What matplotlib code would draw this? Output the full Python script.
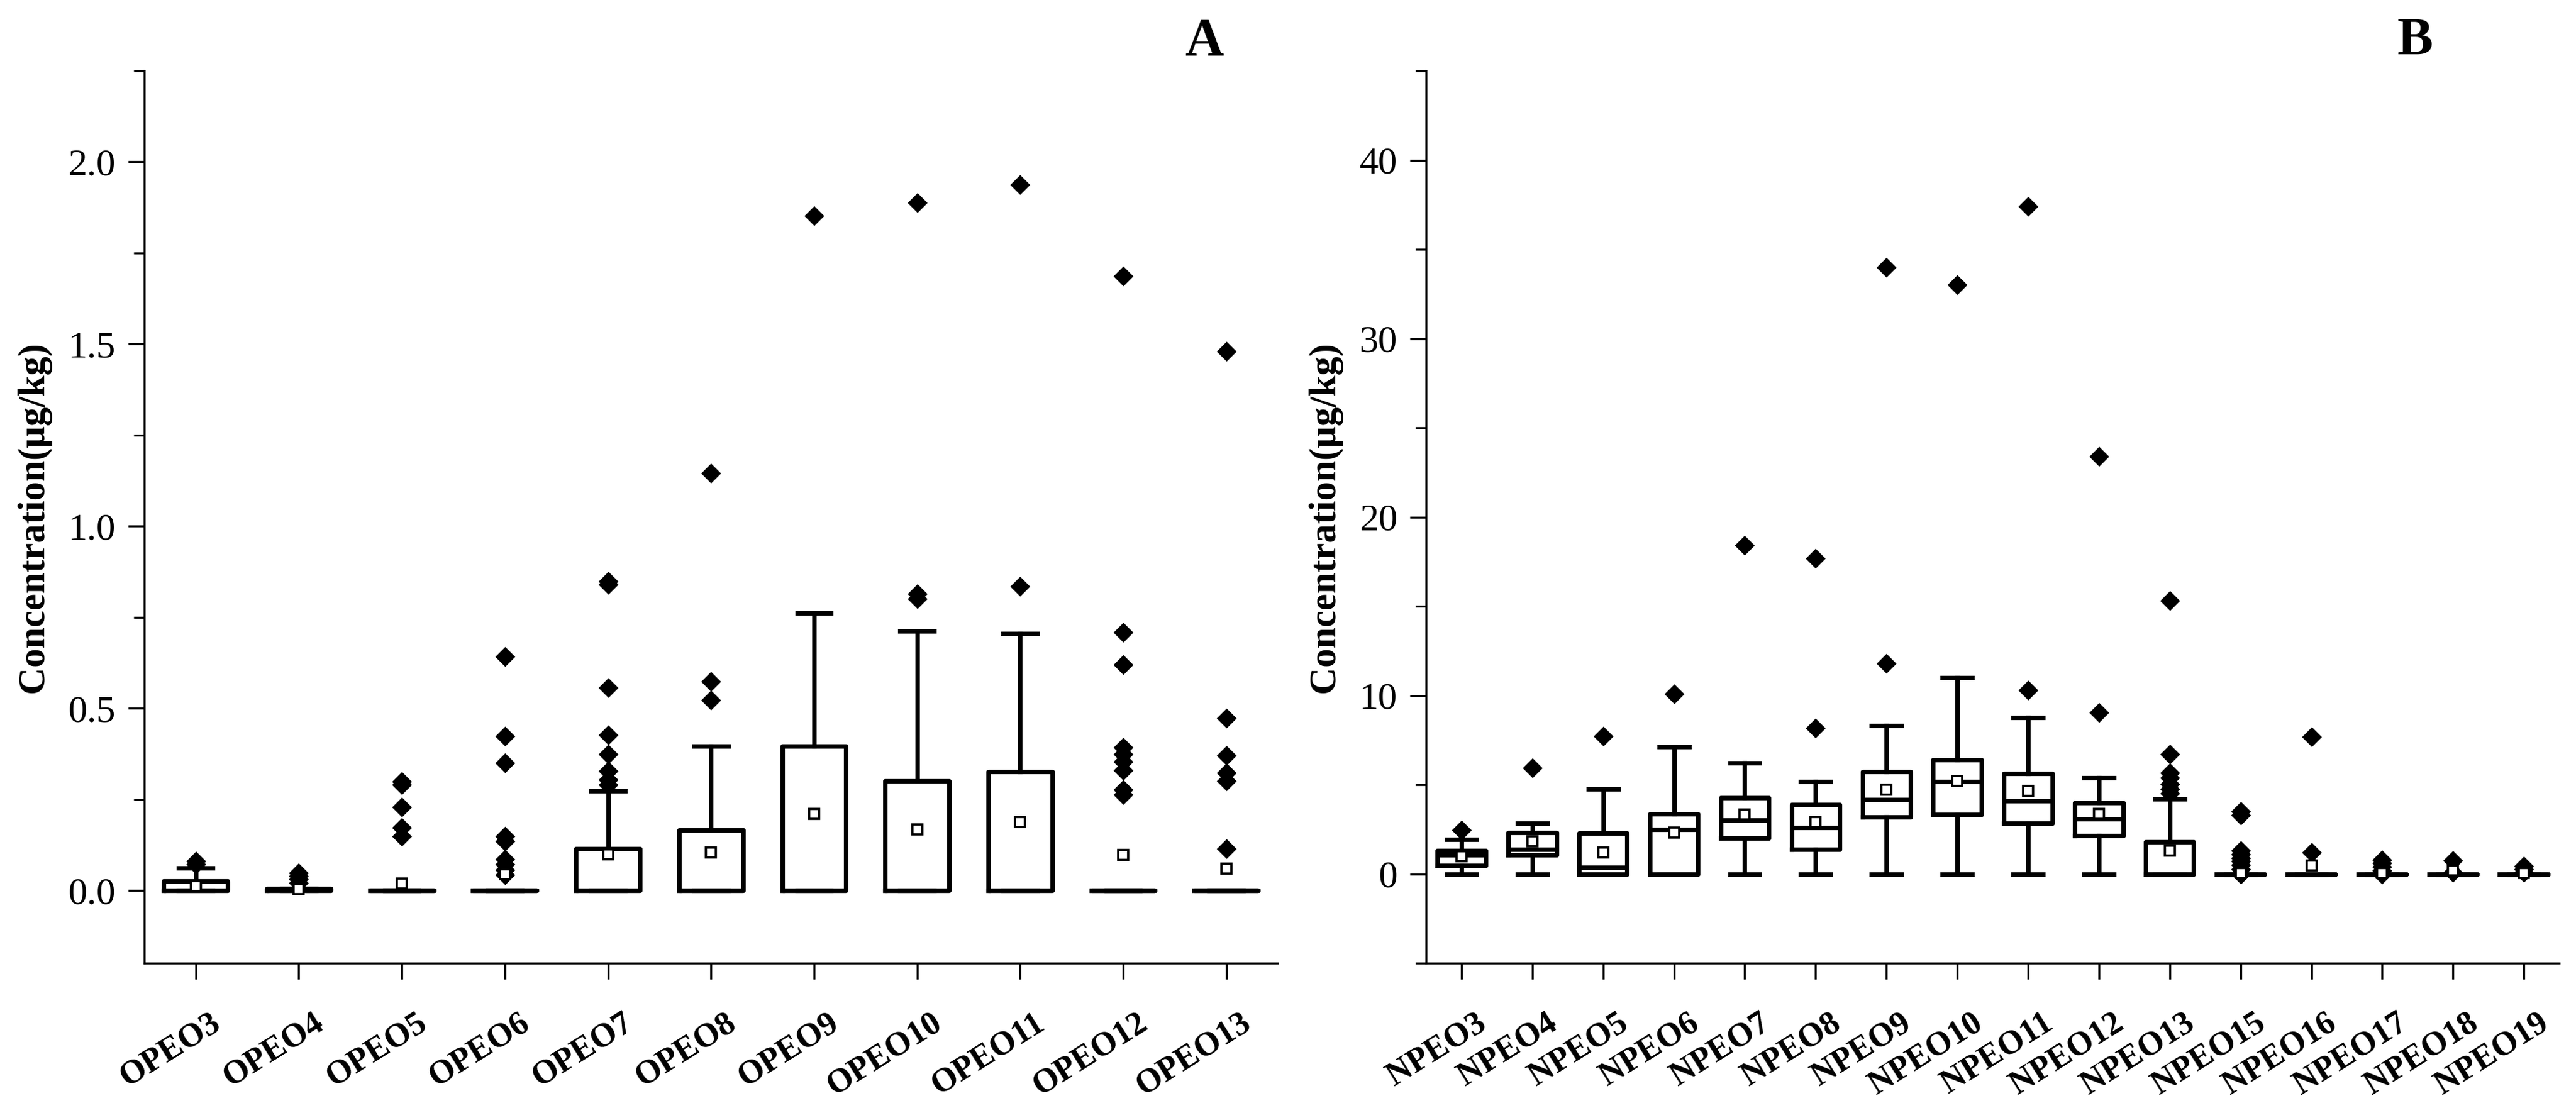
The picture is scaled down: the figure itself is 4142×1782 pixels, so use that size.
#!/usr/bin/env python3
# -*- coding: utf-8 -*-

import matplotlib
matplotlib.use('Agg')
import matplotlib.pyplot as plt
from matplotlib.ticker import MultipleLocator
from matplotlib.transforms import ScaledTranslation


# panel A: OPEO
opeo_labels = ['OPEO3', 'OPEO4', 'OPEO5', 'OPEO6', 'OPEO7', 'OPEO8',
               'OPEO9', 'OPEO10', 'OPEO11', 'OPEO12', 'OPEO13']
opeo_q1 = [0, 0, 0, 0, 0, 0, 0, 0, 0, 0, 0]
opeo_med = [0, 0, 0, 0, 0, 0, 0, 0, 0, 0, 0]
opeo_q3 = [0.025, 0.005, 0, 0, 0.114, 0.165, 0.396, 0.301, 0.326, 0, 0]
opeo_lo = [0, 0, 0, 0, 0, 0, 0, 0, 0, 0, 0]
opeo_hi = [0.061, 0.005, 0, 0, 0.273, 0.396, 0.762, 0.711, 0.705, 0, 0]
opeo_mean = [0.012, 0.004, 0.018, 0.045, 0.099, 0.104, 0.21, 0.168, 0.188, 0.098, 0.059]
opeo_out = [[0.072, 0.08],
            [0.02, 0.03, 0.04, 0.047],
            [0.149, 0.173, 0.228, 0.29, 0.298],
            [0.043, 0.057, 0.072, 0.086, 0.134, 0.149, 0.35, 0.424, 0.642],
            [0.29, 0.304, 0.328, 0.374, 0.426, 0.557, 0.84, 0.848],
            [0.523, 0.574, 1.146],
            [1.852],
            [0.80, 0.815, 1.888],
            [0.835, 1.938],
            [0.262, 0.277, 0.33, 0.354, 0.373, 0.393, 0.62, 0.709, 1.687],
            [0.114, 0.30, 0.323, 0.371, 0.472, 1.48]]

# panel B: NPEO
npeo_labels = ['NPEO3', 'NPEO4', 'NPEO5', 'NPEO6', 'NPEO7', 'NPEO8', 'NPEO9',
               'NPEO10', 'NPEO11', 'NPEO12', 'NPEO13', 'NPEO15', 'NPEO16',
               'NPEO17', 'NPEO18', 'NPEO19']
npeo_q1 = [0.49, 1.05, 0, 0, 2.02, 1.38, 3.18, 3.32, 2.85, 2.13, 0, 0, 0, 0, 0, 0]
npeo_med = [1.05, 1.38, 0.36, 2.49, 3.0, 2.61, 4.15, 5.18, 4.09, 3.08, 0, 0, 0, 0, 0, 0]
npeo_q3 = [1.30, 2.33, 2.29, 3.36, 4.27, 3.89, 5.75, 6.40, 5.63, 4.0, 1.8, 0, 0, 0, 0, 0]
npeo_lo = [0, 0, 0, 0, 0, 0, 0, 0, 0, 0, 0, 0, 0, 0, 0, 0]
npeo_hi = [1.94, 2.83, 4.76, 7.13, 6.23, 5.18, 8.32, 10.99, 8.75, 5.4, 4.2, 0, 0, 0, 0, 0]
npeo_mean = [1.0, 1.82, 1.19, 2.33, 3.32, 2.92, 4.72, 5.2, 4.64, 3.35, 1.3,
             0.05, 0.46, 0.05, 0.18, 0.05]
npeo_out = [[2.47], [5.93], [7.71], [10.1], [18.4], [8.16, 17.7], [11.8, 34.0],
            [33.0], [10.3, 37.4], [9.05, 23.4],
            [4.5, 4.75, 5.05, 5.4, 5.65, 6.7, 15.3],
            [0.0, 0.25, 0.5, 0.7, 0.9, 1.1, 1.3, 3.3, 3.5],
            [1.2, 7.7],
            [0.0, 0.2, 0.4, 0.6, 0.8],
            [0.1, 0.75],
            [0.1, 0.25, 0.45]]


plt.rcParams['font.family'] = ['Liberation Serif', 'DejaVu Serif']

fig = plt.figure(figsize=(20.71, 8.91), dpi=200)
ax_a = fig.add_axes([0.056, 0.1307, 0.44, 0.8053])
ax_b = fig.add_axes([0.5536, 0.1307, 0.4399, 0.8053])


def make_stats(labels, q1, med, q3, lo, hi, mean, out):
    stats = []
    for i in range(len(labels)):
        stats.append(dict(label=labels[i], q1=q1[i], med=med[i], q3=q3[i],
                          whislo=lo[i], whishi=hi[i], mean=mean[i],
                          fliers=out[i]))
    return stats


def draw_panel(ax, stats, box_w, cap_w, ylim, major, minor, letter, letter_x):
    lw = 2.6
    ax.bxp(stats, positions=range(1, len(stats) + 1), widths=box_w,
           capwidths=cap_w, showmeans=True, patch_artist=False,
           boxprops=dict(color='black', linewidth=lw),
           medianprops=dict(color='black', linewidth=lw),
           whiskerprops=dict(color='black', linewidth=lw),
           capprops=dict(color='black', linewidth=lw),
           meanprops=dict(marker='s', markerfacecolor='white',
                          markeredgecolor='black', markersize=6,
                          markeredgewidth=1.3),
           flierprops=dict(marker='D', markerfacecolor='black',
                           markeredgecolor='black', markersize=7.2))
    ax.set_xlim(0.5, len(stats) + 0.5)
    ax.set_ylim(*ylim)
    ax.yaxis.set_major_locator(MultipleLocator(major))
    ax.yaxis.set_minor_locator(MultipleLocator(minor))
    for side in ['top', 'right']:
        ax.spines[side].set_visible(False)
    for side in ['left', 'bottom']:
        ax.spines[side].set_linewidth(1.2)
    ax.tick_params(axis='both', which='major', length=9.5, width=1.2,
                   direction='out', labelsize=22)
    ax.tick_params(axis='y', which='minor', length=6, width=1.2)
    ax.tick_params(axis='y', pad=7)
    ax.tick_params(axis='x', pad=16)
    shift = ScaledTranslation(8 / 72, 0, fig.dpi_scale_trans)
    for lab in ax.get_xticklabels():
        lab.set_rotation(32)
        lab.set_ha('right')
        lab.set_rotation_mode('anchor')
        lab.set_fontweight('bold')
        lab.set_fontsize(19.5)
        lab.set_transform(lab.get_transform() + shift)
    ax.set_ylabel('Concentration(μg/kg)', fontsize=22, fontweight='bold',
                  labelpad=10)
    fig.text(letter_x, 0.962, letter, fontsize=31,
             fontweight='bold', ha='center', va='center')


draw_panel(ax_a, make_stats(opeo_labels, opeo_q1, opeo_med, opeo_q3, opeo_lo,
                            opeo_hi, opeo_mean, opeo_out),
           0.62, 0.33, (-0.2, 2.25), 0.5, 0.25, 'A', 0.4674)
ax_a.yaxis.set_major_formatter(plt.FuncFormatter(lambda v, p: '{:.1f}'.format(v)))

draw_panel(ax_b, make_stats(npeo_labels, npeo_q1, npeo_med, npeo_q3, npeo_lo,
                            npeo_hi, npeo_mean, npeo_out),
           0.68, 0.42, (-5, 45), 10, 5, 'B', 0.9375)

fig.savefig('out.png', dpi=200)
